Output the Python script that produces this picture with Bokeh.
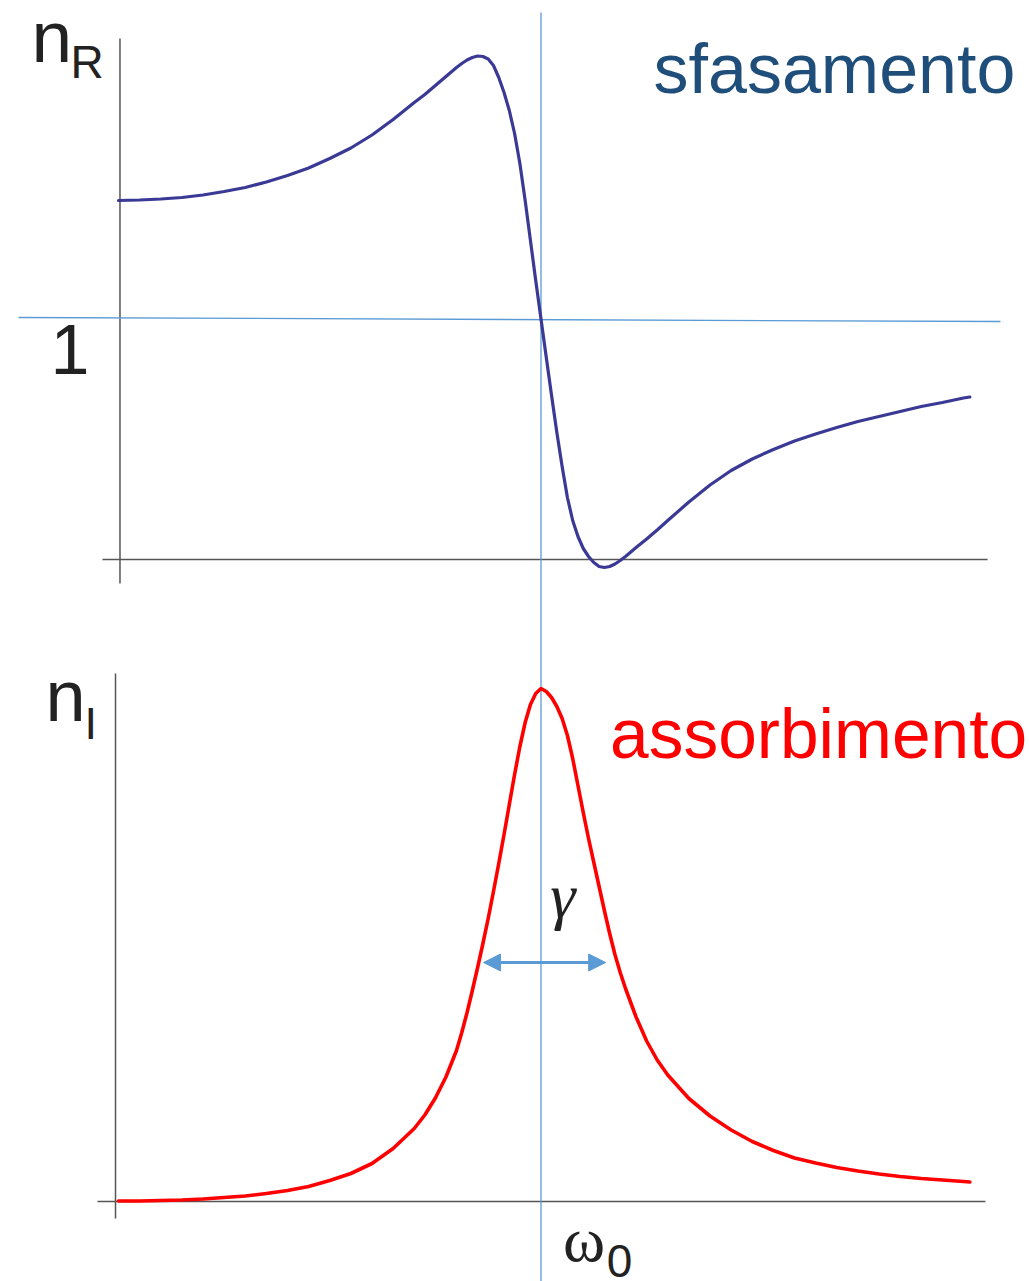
from bokeh.plotting import figure
from bokeh.models import Range1d, Label, Arrow, NormalHead
from bokeh.embed import file_html
from bokeh.resources import INLINE

# frequency axis (omega, arbitrary units, resonance at omega_0 = 10)
omega = [0, 0.5, 1, 1.5, 2, 2.5, 3, 3.5, 4, 4.5, 5, 5.5, 6, 6.5, 7, 7.25, 7.5, 7.75,
         8, 8.125, 8.25, 8.375, 8.5, 8.625, 8.75, 8.875, 9, 9.125, 9.25, 9.375,
         9.5, 9.625, 9.75, 9.875, 10, 10.125, 10.25, 10.375, 10.5, 10.625, 10.75,
         10.875, 11, 11.125, 11.25, 11.375, 11.5, 11.625, 11.75, 11.875, 12,
         12.25, 12.5, 12.75, 13, 13.5, 14, 14.5, 15, 15.5, 16, 16.5, 17, 17.5,
         18, 18.5, 19, 19.5, 20, 20.15]

# real part of the refractive index (dispersion)
n_real = [1.237, 1.238, 1.240, 1.243, 1.248, 1.255, 1.263, 1.274, 1.287, 1.302,
          1.321, 1.342, 1.368, 1.399, 1.433, 1.449, 1.467, 1.485,
          1.503, 1.511, 1.518, 1.523, 1.526, 1.525, 1.520, 1.507, 1.483, 1.453,
          1.417, 1.371, 1.311, 1.237, 1.157, 1.077, 1.000, 0.923, 0.847, 0.773,
          0.705, 0.643, 0.597, 0.565, 0.541, 0.525, 0.513, 0.505, 0.503, 0.505,
          0.510, 0.517, 0.525, 0.543, 0.560, 0.578, 0.597, 0.634, 0.668, 0.697,
          0.720, 0.739, 0.756, 0.770, 0.783, 0.795, 0.805, 0.815, 0.825, 0.833,
          0.842, 0.844]

# imaginary part of the refractive index (absorption)
n_imag = [0.001, 0.001, 0.002, 0.003, 0.005, 0.008, 0.011, 0.016, 0.022, 0.030,
          0.042, 0.056, 0.076, 0.106, 0.146, 0.173, 0.207, 0.249,
          0.302, 0.338, 0.378, 0.422, 0.468, 0.516, 0.566, 0.620, 0.676, 0.734,
          0.794, 0.854, 0.910, 0.958, 0.994, 1.016, 1.026, 1.020, 1.008, 0.990,
          0.966, 0.932, 0.886, 0.832, 0.778, 0.726, 0.678, 0.630, 0.582, 0.536,
          0.494, 0.458, 0.426, 0.369, 0.321, 0.283, 0.253, 0.206, 0.171, 0.143,
          0.120, 0.102, 0.087, 0.077, 0.068, 0.061, 0.055, 0.050, 0.046, 0.043,
          0.040, 0.039]

omega_0 = 10
gamma_left, gamma_right = 8.64, 11.53
gamma_level = 0.478

BLUE = "#5B9BD5"
AXIS = "#555555"
INK = "#222222"

p = figure(width=1029, height=1281, output_backend="svg", toolbar_location=None,
           x_range=Range1d(-2.793, 21.562), y_range=Range1d(-0.925, 1.637),
           x_axis_location=None, y_axis_location=None, min_border=0)
p.extra_y_ranges = {"ni": Range1d(-0.16, 2.402)}
p.grid.visible = False
p.outline_line_color = None
p.background_fill_color = "white"
p.border_fill_color = "white"

# ---- upper panel: n_R ----
p.segment(x0=[0.035], y0=[1.561], x1=[0.035], y1=[0.471], line_color=AXIS, line_width=1.5)
p.segment(x0=[-0.379], y0=[0.519], x1=[20.57], y1=[0.519], line_color=AXIS, line_width=1.5)
p.segment(x0=[-2.367], y0=[1.003], x1=[20.876], y1=[0.995], line_color=BLUE, line_width=1.3)

# ---- lower panel: n_I ----
p.segment(x0=[-0.071], y0=[1.056], x1=[-0.071], y1=[-0.034], line_color=AXIS,
          line_width=1.5, y_range_name="ni")
p.segment(x0=[-0.497], y0=[0.0], x1=[20.52], y1=[0.0], line_color=AXIS,
          line_width=1.5, y_range_name="ni")

# resonance marker through both panels
p.segment(x0=[omega_0], y0=[1.613], x1=[omega_0], y1=[-0.925], line_color=BLUE, line_width=1.3)

p.line(omega, n_real, line_color="#3A3A96", line_width=3.2, line_join="round", line_cap="round")
p.line(omega, n_imag, line_color="#FF0000", line_width=3.6, line_join="round",
       line_cap="round", y_range_name="ni")

# linewidth gamma
p.add_layout(Arrow(start=NormalHead(size=17, fill_color=BLUE, line_color=BLUE),
                   end=NormalHead(size=17, fill_color=BLUE, line_color=BLUE),
                   x_start=gamma_left, y_start=gamma_level, x_end=gamma_right, y_end=gamma_level,
                   line_color=BLUE, line_width=3, y_range_name="ni"))

SANS = "Liberation Sans"
SERIF = "Liberation Serif"


def lab(x, y, text, size, color=INK, font=SANS, style="normal", align="left", yr="default"):
    p.add_layout(Label(x=x, y=y, text=text, text_font=font, text_font_size=size,
                       text_color=color, text_font_style=style, text_align=align,
                       text_baseline="alphabetic", y_range_name=yr))


lab(-2.059, 1.566, "n", "73px")
lab(-1.136, 1.515, "R", "46px")
lab(-1.148, 0.939, "1", "70px", align="center")
lab(12.663, 1.501, "sfasamento", "70px", color="#1F4E7A")

lab(-1.728, 1.011, "n", "72px", yr="ni")
lab(-0.805, 0.957, "I", "45px", yr="ni")
lab(11.633, 0.936, "assorbimento", "69.5px", color="#FF0000", yr="ni")
lab(10.518, 0.613, "γ", "64px", font=SERIF, style="italic", align="center", yr="ni")
lab(11.018, -0.075, "ω", "64px", font=SERIF, align="center", yr="ni")
lab(11.858, -0.118, "0", "46px", align="center", yr="ni")

open("out.html", "w").write(file_html(p, INLINE))
